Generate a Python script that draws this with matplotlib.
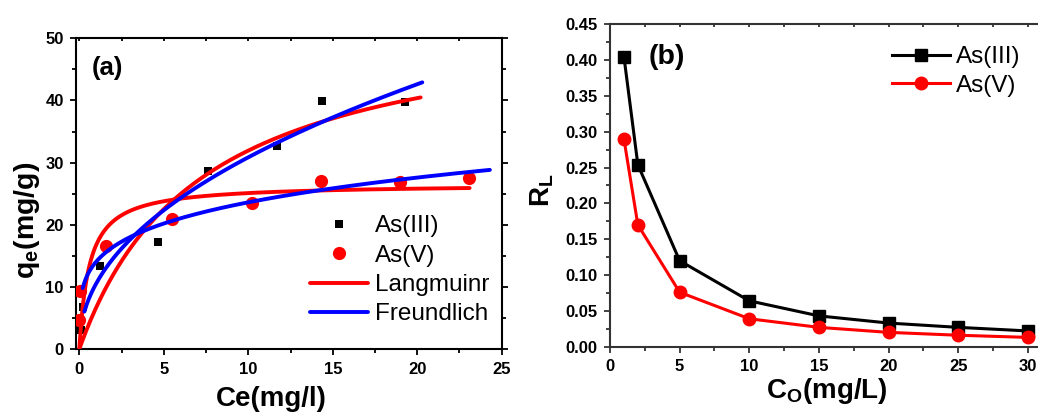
import numpy as np
import matplotlib
matplotlib.use("Agg")
import matplotlib.pyplot as plt
from matplotlib.ticker import MultipleLocator, FormatStrFormatter
from matplotlib.markers import TICKDOWN

plt.rcParams['font.family'] = ['Liberation Sans', 'DejaVu Sans']
plt.rcParams['mathtext.fontset'] = 'custom'
plt.rcParams['mathtext.bf'] = 'Liberation Sans:bold'
plt.rcParams['mathtext.rm'] = 'Liberation Sans'
plt.rcParams['mathtext.default'] = 'bf'

# (a) equilibrium adsorption data
ce_as3 = [0.1, 0.24, 1.2, 4.68, 7.64, 11.72, 14.38, 19.28]
qe_as3 = [3.0, 6.8, 13.4, 17.2, 28.6, 32.6, 39.9, 39.7]
ce_as5 = [0.0, 0.04, 1.58, 5.5, 10.2, 14.3, 18.96, 23.05]
qe_as5 = [4.6, 9.4, 16.6, 21.0, 23.5, 27.1, 26.8, 27.5]

# isotherm fit parameters: Langmuir (qm, KL) and Freundlich (KF, 1/n)
lang_as3 = (54.9, 0.139)
lang_as5 = (26.56, 1.71)
freu_as3 = (10.55, 0.466)
freu_as5 = (14.06, 0.225)
# concentration range covered by each fitted curve
lang_as3_range = (0.0, 20.2)
lang_as5_range = (0.0, 23.1)
freu_as3_range = (0.3, 20.3)
freu_as5_range = (0.2, 24.3)

# (b) separation factor vs initial concentration
c0 = [1, 2, 5, 10, 15, 20, 25, 30]
rl_as3 = [0.405, 0.254, 0.120, 0.064, 0.043, 0.033, 0.027, 0.022]
rl_as5 = [0.290, 0.170, 0.076, 0.039, 0.027, 0.020, 0.016, 0.013]


def langmuir(c, qm, kl):
    return qm * kl * c / (1 + kl * c)


def freundlich(c, kf, inv_n):
    return kf * c ** inv_n


W, H = 1038, 416
fig = plt.figure(figsize=(W / 100, H / 100), dpi=100)

def px_axes(x0, y0, x1, y1):
    return fig.add_axes([x0 / W, 1 - y1 / H, (x1 - x0) / W, (y1 - y0) / H])

ax1 = px_axes(76.3, 38.3, 501.7, 349)
ax2 = px_axes(610, 24.3, 610 + 31 * 13.93, 346.7)

def style(ax, frame_color):
    for s in ax.spines.values():
        s.set_linewidth(1.5)
        s.set_color(frame_color)
    ax.tick_params(which='both', direction='out', width=1.3, labelsize=12,
                   right=True, color=frame_color)
    ax.tick_params(which='major', length=4.5, pad=4.5)
    ax.tick_params(which='minor', length=3)
    ax.tick_params(axis='x', which='both', top=True, labeltop=False)
    for tick in ax.xaxis.get_major_ticks() + ax.xaxis.get_minor_ticks():
        tick.tick2line.set_marker(TICKDOWN)   # top ticks point inward
        tick.tick2line.set_markersize(2.5)
    for lab in ax.get_xticklabels() + ax.get_yticklabels():
        lab.set_fontweight('bold')

# ---- panel (a)
ax1.plot(ce_as3, qe_as3, ls='none', marker='s', ms=6.2, color='black',
         mew=0, zorder=3, label='As(III)')
ax1.plot(ce_as5, qe_as5, ls='none', marker='o', ms=9.5, color='#ff0000',
         mew=0, zorder=3, label='As(V)')

c = np.linspace(*lang_as3_range, 300)
ax1.plot(c, langmuir(c, *lang_as3), color='#ff0000', lw=2.8, zorder=4,
         label='Langmuinr', solid_capstyle='round')
c = np.linspace(*lang_as5_range, 300)
ax1.plot(c, langmuir(c, *lang_as5), color='#ff0000', lw=2.8, zorder=4,
         solid_capstyle='round')
c = np.linspace(*freu_as3_range, 300)
ax1.plot(c, freundlich(c, *freu_as3), color='#0000ff', lw=2.8, zorder=5,
         label='Freundlich', solid_capstyle='round')
c = np.linspace(*freu_as5_range, 300)
ax1.plot(c, freundlich(c, *freu_as5), color='#0000ff', lw=2.8, zorder=5,
         solid_capstyle='round')

ax1.set_xlim(-0.18, 25)
ax1.set_ylim(0, 50)
ax1.xaxis.set_major_locator(MultipleLocator(5))
ax1.xaxis.set_minor_locator(MultipleLocator(2.5))
ax1.yaxis.set_major_locator(MultipleLocator(10))
ax1.yaxis.set_minor_locator(MultipleLocator(5))
style(ax1, 'black')
ax1.set_xlabel('Ce(mg/l)', fontsize=20, fontweight='bold')
ax1.xaxis.set_label_coords(0.459, -0.12)
ax1.set_ylabel('q$_e$(mg/g)', fontsize=20.5, fontweight='bold')
ax1.yaxis.set_label_coords(-0.08, 0.415)
ax1.text(0.037, 0.905, '(a)', transform=ax1.transAxes, fontsize=18.5,
         fontweight='bold', va='center', ha='left')
ax1.legend(loc='upper left', bbox_to_anchor=(0.509, 0.4847), frameon=False,
           fontsize=17.5, handlelength=2.39, handletextpad=0.29,
           labelspacing=0.30, borderpad=0.2)

# ---- panel (b)
ax2.plot(c0, rl_as3, color='black', marker='s', ms=8, lw=2.2, label='As(III)',
         zorder=3)
ax2.plot(c0, rl_as5, color='#ff0000', marker='o', ms=9, lw=2.2, label='As(V)',
         zorder=3)
ax2.set_xlim(0, 31)
ax2.set_ylim(0, 0.45)
ax2.xaxis.set_major_locator(MultipleLocator(5))
ax2.xaxis.set_minor_locator(MultipleLocator(2.5))
ax2.yaxis.set_major_locator(MultipleLocator(0.05))
ax2.yaxis.set_minor_locator(MultipleLocator(0.025))
ax2.yaxis.set_major_formatter(FormatStrFormatter('%.2f'))
style(ax2, '#333333')
ax2.set_xlabel('C$_O$(mg/L)', fontsize=20, fontweight='bold')
ax2.xaxis.set_label_coords((827 - 610) / (31 * 13.93), -0.09)
ax2.set_ylabel('R$_L$', fontsize=20, fontweight='bold')
ax2.yaxis.set_label_coords(-0.126, 0.486)
ax2.text(0.09, 0.9, '(b)', transform=ax2.transAxes, fontsize=20.5,
         fontweight='bold', va='center', ha='left')
ax2.legend(loc='upper left', bbox_to_anchor=(0.6137, 0.985), frameon=False,
           fontsize=17.5, handlelength=2.39, handletextpad=0.25,
           labelspacing=0.27, borderpad=0.2)

fig.savefig('out.png', dpi=100)
